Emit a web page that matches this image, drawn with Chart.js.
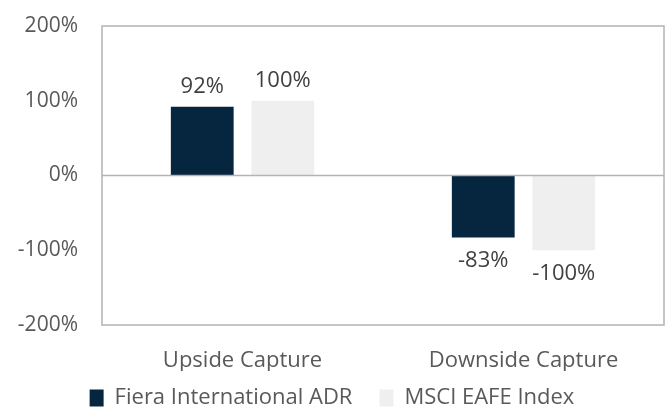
<!DOCTYPE html>
<html>
<head>
<meta charset="utf-8">
<script src="https://cdn.jsdelivr.net/npm/chart.js@4/dist/chart.umd.min.js"></script>
<style>
  body { margin: 0; background: #fff; }
  #wrap { width: 665px; height: 411px; }
</style>
</head>
<body>
<div id="wrap"><canvas id="captureChart" width="665" height="411"></canvas></div>
<script>
const categories = ['Upside Capture', 'Downside Capture'];
const fieraValues = [92, -83];
const msciValues = [100, -100];
const seriesNames = ['Fiera International ADR', 'MSCI EAFE Index'];

const textColor = '#595959';
const fontFamily = "'Open Sans', 'Liberation Sans', sans-serif";

// draws the value labels and the plot area box
const labelPlugin = {
    id: 'valueLabels',
    afterDatasetsDraw(chart) {
        const ctx = chart.ctx;
        const area = chart.chartArea;
        ctx.save();
        ctx.strokeStyle = '#b3b3b3';
        ctx.lineWidth = 1.5;
        ctx.strokeRect(area.left, area.top, area.right - area.left, area.bottom - area.top);
        const zeroY = chart.scales.y.getPixelForValue(0);
        ctx.beginPath();
        ctx.moveTo(area.left, zeroY);
        ctx.lineTo(area.right, zeroY);
        ctx.stroke();

        ctx.font = '22px ' + fontFamily;
        ctx.fillStyle = '#404040';
        ctx.textAlign = 'center';
        ctx.textBaseline = 'middle';
        chart.data.datasets.forEach((ds, i) => {
            const meta = chart.getDatasetMeta(i);
            meta.data.forEach((bar, j) => {
                const v = ds.data[j];
                const y = v >= 0 ? bar.y - 20 : bar.y + 23;
                ctx.fillText(v + '%', bar.x, y);
            });
        });
        ctx.restore();
    }
};

// legend: wide gap between items but not so much room above/below
const legendSpacing = {
    id: 'legendSpacing',
    beforeInit(chart) {
        const fit = chart.legend.fit;
        chart.legend.fit = function () {
            fit.bind(chart.legend)();
            this.height = 40;
        };
    },
    afterLayout(chart) {
        chart.legend.top = 360;
        chart.legend.bottom = 411;
    }
};

const chartData = {
    labels: categories,
    datasets: [{
        label: seriesNames[0],
        data: fieraValues,
        backgroundColor: '#06253f',
        categoryPercentage: 0.573,
        barPercentage: 0.78,
    }, {
        label: seriesNames[1],
        data: msciValues,
        backgroundColor: '#efefef',
        categoryPercentage: 0.573,
        barPercentage: 0.78,
    }]
};

const options = {
    responsive: false,
    maintainAspectRatio: false,
    animation: false,
    layout: { padding: { top: 26, right: 1, left: 0, bottom: 0 } },
    plugins: {
        legend: {
            display: true,
            position: 'bottom',
            labels: {
                boxWidth: 14,
                boxHeight: 17,
                padding: 27,
                color: textColor,
                font: { size: 22, family: fontFamily },
            },
        },
        tooltip: { enabled: false },
    },
    scales: {
        x: {
            afterFit: (scale) => { scale.height = 46; },
            grid: { display: false, drawTicks: false },
            border: { display: false },
            ticks: {
                color: textColor,
                padding: 23,
                font: { size: 22, family: fontFamily },
            },
        },
        y: {
            min: -200,
            max: 200,
            afterFit: (scale) => {
                scale.width = 102;
                scale.paddingTop = 0;
                scale.paddingBottom = 0;
            },
            grid: { display: false, drawTicks: false },
            border: { display: false },
            ticks: {
                stepSize: 100,
                color: textColor,
                padding: 24,
                font: { size: 21, family: fontFamily },
                callback: (v) => v + '%',
            },
        },
    },
};

const ctx = document.getElementById('captureChart').getContext('2d');
new Chart(ctx, {
    type: 'bar',
    data: chartData,
    options: options,
    plugins: [labelPlugin, legendSpacing],
});
</script>
</body>
</html>
